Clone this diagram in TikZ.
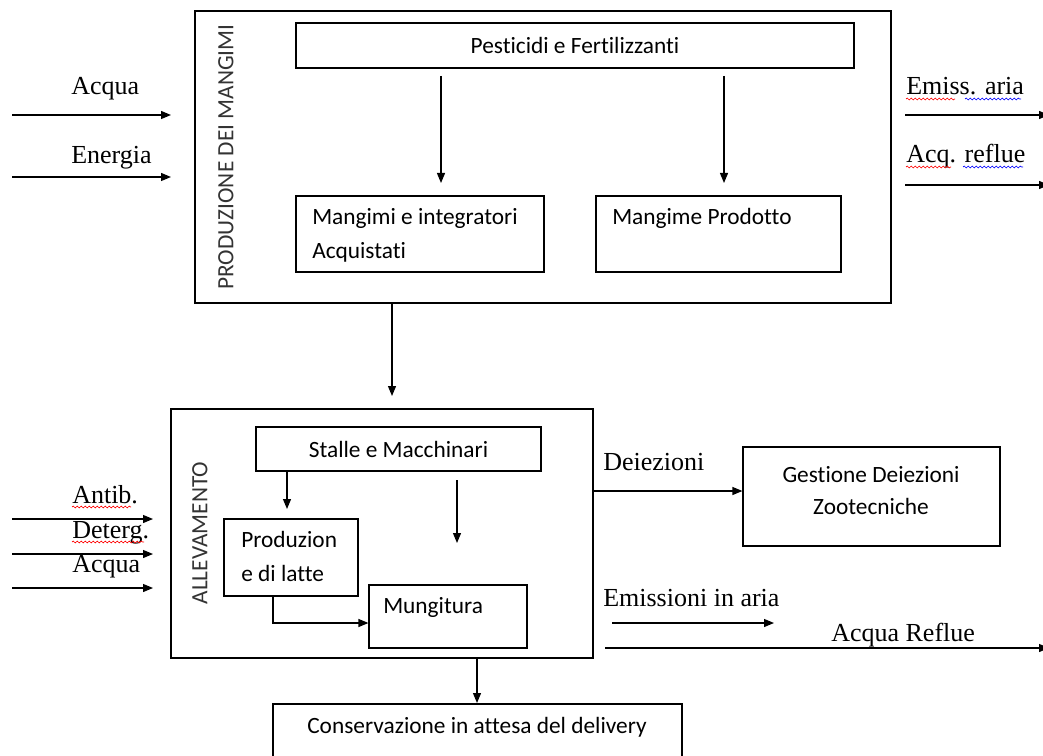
\documentclass[tikz,border=0pt]{standalone}
\usepackage{fontspec}
\setmainfont{Liberation Serif}
\newfontfamily\calfont[Ligatures={NoCommon}]{Carlito}
\usetikzlibrary{arrows.meta,fit,decorations.pathmorphing}
\begin{document}
\begin{tikzpicture}[x=0.75pt,y=-0.75pt,
  box/.style={draw, line width=0.9pt, inner sep=0pt},
  arr/.style={draw, line width=0.9pt, -{Triangle[length=7.5pt,width=6pt]}},
  ser/.style={font=\fontsize{19.5}{22}\selectfont, inner sep=0pt, anchor=base west},
  sans/.style={font=\calfont\fontsize{17.5}{20}\selectfont, inner sep=0pt},
  rot/.style={font=\calfont\fontsize{17.5}{20}\selectfont, rotate=90, inner sep=0pt, text=black!80},
  wred/.style={draw=red, line width=0.5pt, decorate, decoration={snake, amplitude=0.7pt, segment length=3pt}},
  wblue/.style={draw=blue, line width=0.5pt, decorate, decoration={snake, amplitude=0.7pt, segment length=3pt}}]
\useasboundingbox (0,0) rectangle (1043,756);
\clip (0,0) rectangle (1043,756);

% ---------- Produzione dei mangimi ----------
\node[box, fit={(195,11) (891,303)}] (prod) {};
\node[rot] (prodt) at (226,157) {PRODUZIONE DEI MANGIMI};
\node[box, fit={(296,23) (854,68)}] (pest) {};
\node[sans] (pestt) at (pest.center) {Pesticidi e Fertilizzanti};
\node[box, fit={(296,196) (544,272)}] (mang) {};
\node[sans, anchor=base west] (mangt1) at (312,224) {Mangimi e integratori};
\node[sans, anchor=base west] (mangt2) at (312,258) {Acquistati};
\node[box, fit={(596,196) (841,272)}] (mprod) {};
\node[sans, anchor=base west] (mprodt) at (612,224) {Mangime Prodotto};
\coordinate (a1s) at (441,76);
\coordinate (a1e) at (441,183);
\coordinate (a2s) at (724,76);
\coordinate (a2e) at (724,183);
\draw[arr] (a1s) -- (a1e);
\draw[arr] (a2s) -- (a2e);

% left inputs
\node[ser] (acq1) at (71,95) {Acqua};
\node[ser] (ene) at (71,164) {Energia};
\coordinate (in1) at (12,115);
\coordinate (in2) at (12,177);
\coordinate (in1e) at (171,115);
\coordinate (in2e) at (171,177);
\draw[arr] (in1) -- (in1e);
\draw[arr] (in2) -- (in2e);

% right outputs
\node[ser] (emiss) at (906,95) {Emiss. aria};
\node[ser] (acqr) at (906,163) {Acq. reflue};
\coordinate (out1s) at (905,115);
\coordinate (out2s) at (905,185);
\coordinate (out1) at (1049,115);
\coordinate (out2) at (1049,185);
\draw[arr] (out1s) -- (out1);
\draw[arr] (out2s) -- (out2);
\draw[wred] (906,99) -- (955,99);
\draw[wblue] (965,99) -- (1021,99);
\draw[wred] (906,167) -- (951,167);
\draw[wblue] (963,167) -- (1023,167);

% ---------- Allevamento ----------
\node[box, fit={(171,409) (593,658)}] (alle) {};
\draw[arr] (prod.south -| 392,0) -- (392,396);
\node[rot] (allet) at (200,533) {ALLEVAMENTO};
\node[box, fit={(256,427) (541,471)}] (stalle) {};
\node[sans] (stallet) at (stalle.center) {Stalle e Macchinari};
\node[box, fit={(224,519) (358,596)}] (latte) {};
\node[sans, anchor=base west] (lattet1) at (241,547) {Produzion};
\node[sans, anchor=base west] (lattet2) at (241,581) {e di latte};
\node[box, fit={(369,585) (527,648)}] (mung) {};
\node[sans, anchor=base west] (mungt) at (383,613) {Mungitura};
\coordinate (s1e) at (287,509);
\draw[arr] (stalle.south -| s1e) -- (s1e);
\coordinate (s2s) at (457,480);
\coordinate (s2e) at (457,543);
\draw[arr] (s2s) -- (s2e);
\coordinate (elb) at (273,623);
\draw[arr] (latte.south -| elb) -- (elb) -- (elb -| mung.west);

% left inputs to allevamento
\node[ser] (antib) at (72,503) {Antib.};
\node[ser] (deterg) at (72,538) {Deterg.};
\node[ser] (acq2) at (72,572) {Acqua};
\coordinate (i1) at (12,519);
\coordinate (i2) at (12,554);
\coordinate (i3) at (12,588);
\coordinate (i1e) at (153,519);
\coordinate (i2e) at (153,554);
\coordinate (i3e) at (153,588);
\draw[arr] (i1) -- (i1e);
\draw[arr] (i2) -- (i2e);
\draw[arr] (i3) -- (i3e);
\draw[wred] (72,507) -- (131,507);
\draw[wred] (72,542) -- (144,542);

% outputs of allevamento
\node[box, fit={(743,447) (1000,546)}] (gest) {};
\node[sans] (gestt1) at (871,475) {Gestione Deiezioni};
\node[sans] (gestt2) at (871,506) {Zootecniche};
\node[ser] (deiez) at (603,470) {Deiezioni};
\coordinate (d1) at (593,491);
\draw[arr] (d1) -- (d1 -| gest.west);
\node[ser] (emair) at (603,606) {Emissioni in aria};
\coordinate (e1) at (612,623);
\coordinate (e2) at (774,623);
\draw[arr] (e1) -- (e2);
\node[ser] (acqref) at (831,641) {Acqua Reflue};
\coordinate (r1) at (605,648);
\coordinate (r2) at (1049,648);
\draw[arr] (r1) -- (r2);

% ---------- Conservazione ----------
\node[box, fit={(273,704) (682,780)}] (cons) {};
\node[sans] (const) at (477,727) {Conservazione in attesa del delivery};
\draw[arr] (alle.south -| 477,0) -- (477,703);
\end{tikzpicture}
\end{document}
